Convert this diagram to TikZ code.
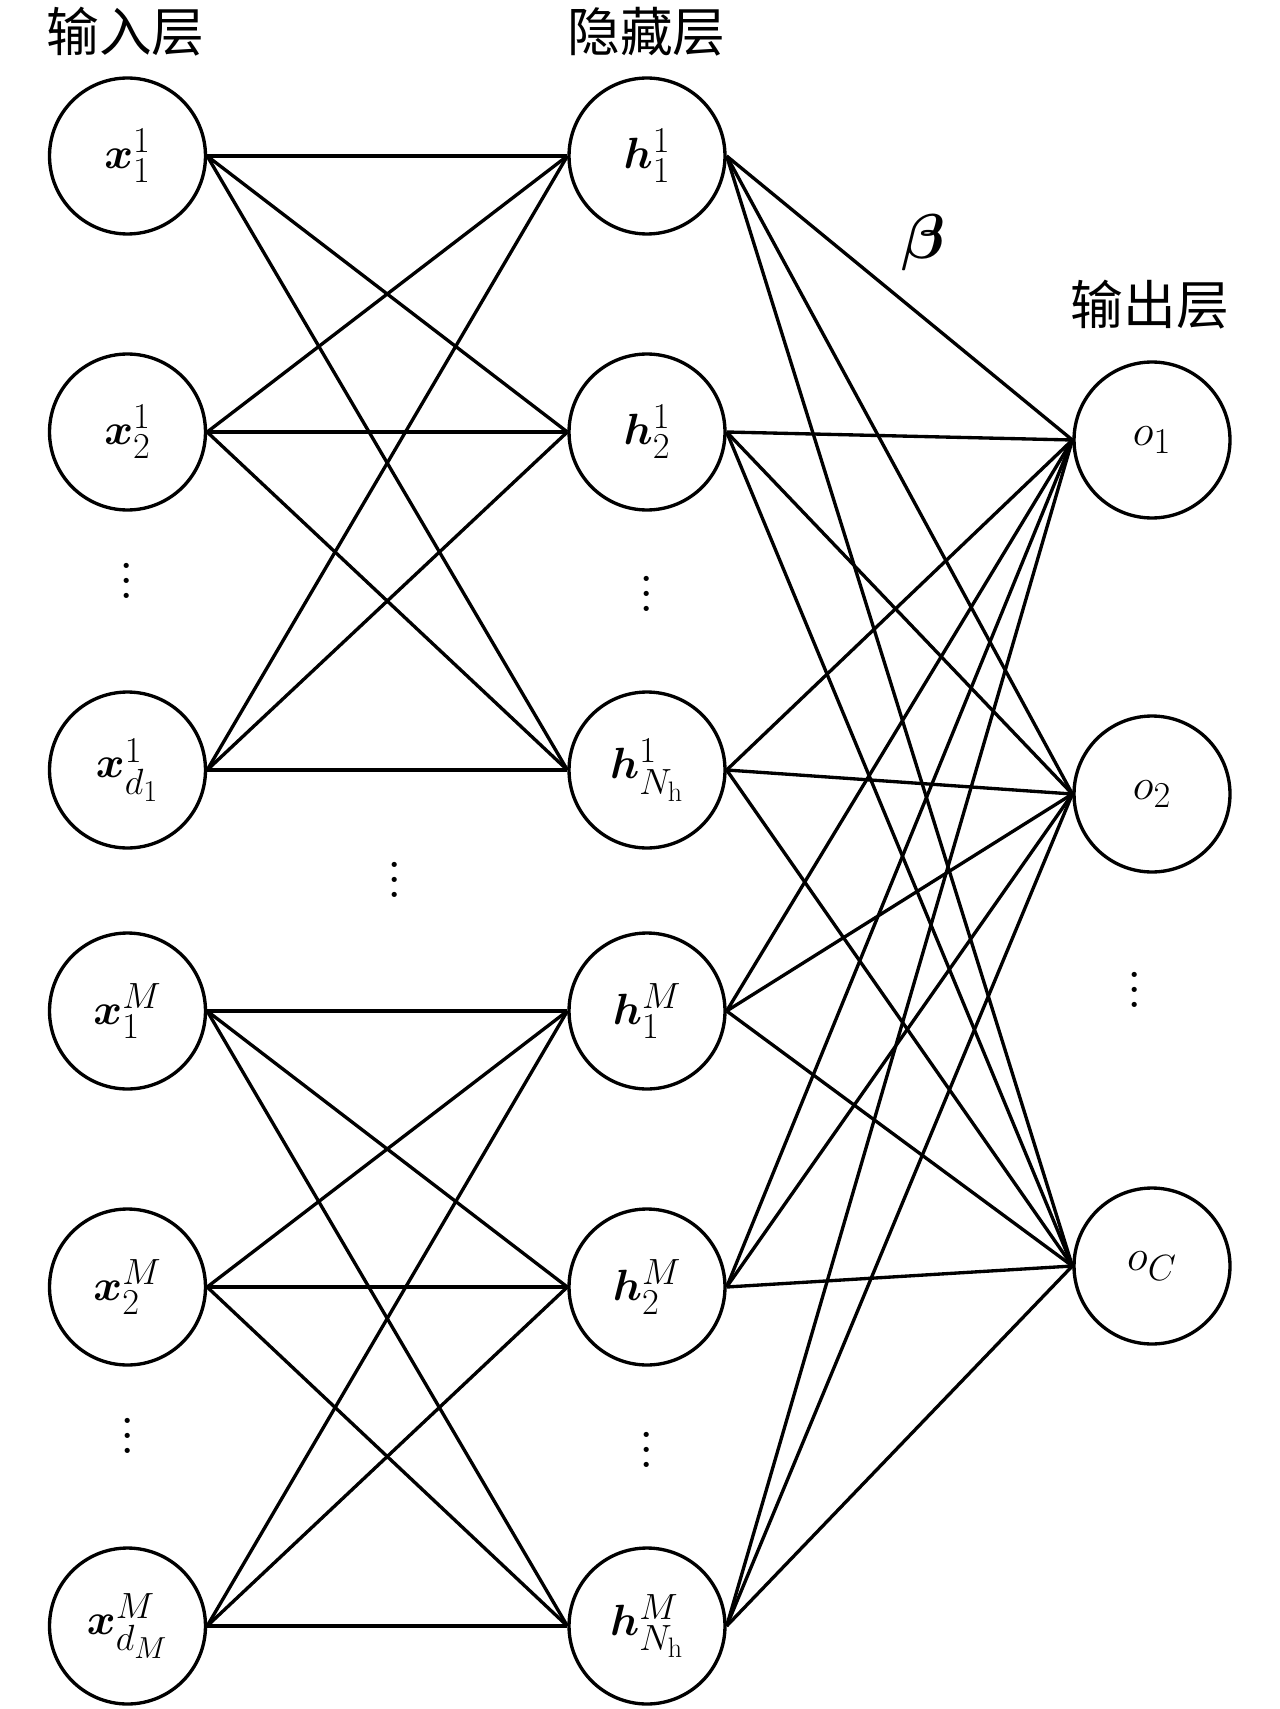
\documentclass[tikz,border=0pt]{standalone}
\usepackage{fontspec}
\usepackage{amsmath}
\usepackage{graphicx}
\newfontfamily\cjk{Noto Sans CJK SC}
\newcommand{\bigvdots}{\scalebox{2.1}{\fontsize{14.4}{17}\selectfont$\vdots$}}
\begin{document}
\begin{tikzpicture}[x=0.02cm,y=-0.02cm,
  neuron/.style={circle,draw,line width=1.9pt,minimum size=3.12cm,inner sep=0pt,font=\fontsize{32}{38}\selectfont},
  lbl/.style={font=\fontsize{30}{36}\selectfont\cjk,inner sep=0pt},
  conn/.style={line width=1.9pt},
  dotsn/.style={inner sep=0pt}]
\path[use as bounding box] (0,0) rectangle (1280,1709);
% layer labels
\node[lbl] (Lin) at (125.5,32) {输入层};
\node[lbl] (Lhid) at (646.5,32) {隐藏层};
\node[lbl] (Lout) at (1150,305) {输出层};
\node[inner sep=0pt] (beta) at (923,243) {\scalebox{1.45}{\fontsize{30}{36}\selectfont$\boldsymbol{\beta}$}};
% input layer
\node[neuron] (x1) at (127.5,156) {$\boldsymbol{x}_1^1$};
\node[neuron] (x2) at (127.5,432) {$\boldsymbol{x}_2^1$};
\node[neuron] (xd1) at (127.5,770) {$\boldsymbol{x}_{d_1}^1$};
\node[neuron] (xM1) at (127.5,1011) {$\boldsymbol{x}_1^M$};
\node[neuron] (xM2) at (127.5,1287) {$\boldsymbol{x}_2^M$};
\node[neuron] (xMd) at (127.5,1626) {$\boldsymbol{x}_{d_M}^M$};
% hidden layer
\node[neuron] (h1) at (647,156) {$\boldsymbol{h}_1^1$};
\node[neuron] (h2) at (647,432) {$\boldsymbol{h}_2^1$};
\node[neuron] (hd1) at (647,770) {$\boldsymbol{h}_{N_\mathrm{h}}^1$};
\node[neuron] (hM1) at (647,1011) {$\boldsymbol{h}_1^M$};
\node[neuron] (hM2) at (647,1287) {$\boldsymbol{h}_2^M$};
\node[neuron] (hMd) at (647,1626) {$\boldsymbol{h}_{N_\mathrm{h}}^M$};
% output layer
\node[neuron] (o1) at (1152,440) {$o_1$};
\node[neuron] (o2) at (1152,794) {$o_2$};
\node[neuron] (oC) at (1152,1266) {$o_C$};
% dots
\node[dotsn] (d1) at (127,570) {\bigvdots};
\node[dotsn] (d2) at (646.5,583) {\bigvdots};
\node[dotsn] (d3) at (395,869) {\bigvdots};
\node[dotsn] (d4) at (127.5,1425) {\bigvdots};
\node[dotsn] (d5) at (646.5,1439) {\bigvdots};
\node[dotsn] (d6) at (1135,979) {\bigvdots};
% connections
\foreach \a in {x1,x2,xd1}
  \foreach \b in {h1,h2,hd1}
    \draw[conn] (\a.east) -- (\b.west);
\foreach \a in {xM1,xM2,xMd}
  \foreach \b in {hM1,hM2,hMd}
    \draw[conn] (\a.east) -- (\b.west);
\foreach \a in {h1,h2,hd1,hM1,hM2,hMd}
  \foreach \b in {o1,o2,oC}
    \draw[conn] (\a.east) -- (\b.west);
\end{tikzpicture}
\end{document}
